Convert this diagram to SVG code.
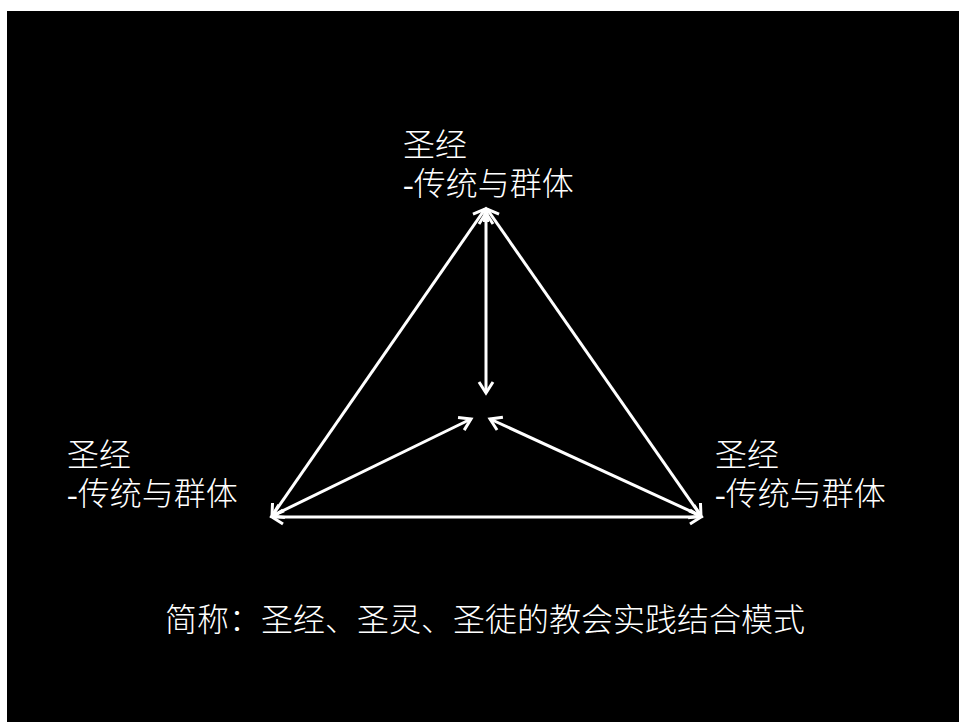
<svg xmlns="http://www.w3.org/2000/svg" width="959" height="722" viewBox="0 0 959 722">
<style>
.t{font-family:"Liberation Serif","Noto Sans CJK SC",serif;font-size:32px;font-weight:300;fill:#ffffff}
.c{stroke:#ffffff;stroke-width:3;fill:none;marker-start:url(#ah);marker-end:url(#ah)}
</style>
<defs>
<marker id="ah" viewBox="-14 -9 18 18" refX="0" refY="0" markerWidth="18" markerHeight="18" markerUnits="userSpaceOnUse" orient="auto-start-reverse">
<path d="M -11 -7 L 0 0 L -11 7" stroke="#ffffff" stroke-width="3" fill="none"/>
</marker>
</defs>
<rect x="0" y="0" width="959" height="722" fill="#ffffff"/>
<rect x="7" y="11" width="952" height="711" fill="#000000"/>
<g id="connectors">
<line class="c" x1="485" y1="209" x2="272" y2="516"/>
<line class="c" x1="487" y1="209" x2="701" y2="516"/>
<line class="c" x1="272" y1="517" x2="701" y2="517"/>
<line class="c" x1="486" y1="213" x2="486" y2="393"/>
<line class="c" x1="272" y1="516" x2="471" y2="419"/>
<line class="c" x1="701" y1="516" x2="490" y2="419"/>
</g>
<g id="node-top">
<text class="t" x="403" y="156">圣经</text>
<text class="t" x="403" y="195">-传统与群体</text>
</g>
<g id="node-left">
<text class="t" x="67" y="466">圣经</text>
<text class="t" x="67" y="505">-传统与群体</text>
</g>
<g id="node-right">
<text class="t" x="715" y="466">圣经</text>
<text class="t" x="715" y="505">-传统与群体</text>
</g>
<g id="caption">
<text class="t" x="165" y="631">简称：圣经、圣灵、圣徒的教会实践结合模式</text>
</g>
</svg>
